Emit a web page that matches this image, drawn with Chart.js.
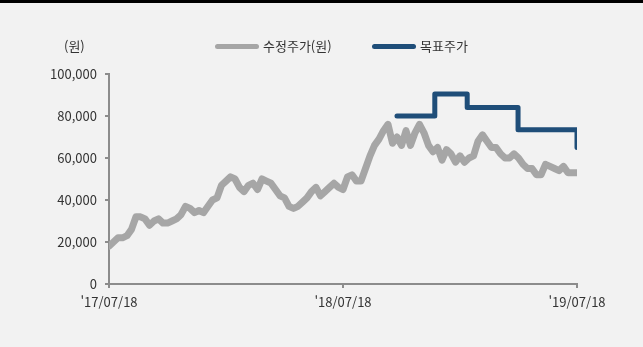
<!DOCTYPE html>
<html lang="ko">
<head>
<meta charset="UTF-8">
<title>수정주가 / 목표주가</title>
<script src="https://cdn.jsdelivr.net/npm/chart.js"></script>
<style>
    html, body {
        margin: 0;
        padding: 0;
        background: #f2f2f2;
    }
    body {
        width: 643px;
        height: 347px;
        position: relative;
        overflow: hidden;
        font-family: "Noto Sans CJK KR", "Noto Sans", sans-serif;
        color: #333;
    }
    .top-bar {
        position: absolute;
        left: 0;
        top: 0;
        width: 643px;
        height: 3px;
        background: #000;
    }
    .chart-box {
        position: absolute;
        left: 0;
        top: 0;
        width: 643px;
        height: 347px;
    }
    .unit {
        position: absolute;
        left: 64px;
        top: 37px;
        font-size: 13px;
        line-height: 18px;
    }
    .legend-item {
        position: absolute;
        top: 37px;
        font-size: 13px;
        line-height: 18px;
        display: flex;
        align-items: center;
    }
    .legend-item .swatch {
        display: inline-block;
        width: 44px;
        height: 5px;
        border-radius: 3px;
        margin-right: 4px;
    }
</style>
</head>
<body>
<div class="top-bar"></div>
<div class="chart-box"><canvas id="priceChart" width="643" height="347"></canvas></div>
<div class="unit">(원)</div>
<div class="legend-item" style="left:215px"><span class="swatch" style="background:#a6a6a6"></span>수정주가(원)</div>
<div class="legend-item" style="left:372px"><span class="swatch" style="background:#1f4e79"></span>목표주가</div>

<script>
// weekly adjusted close, from '17/07/18 (week 0) to '19/07/18 (week 104)
const adjPrice = [
    18000, 20000, 22000, 22000, 23000, 26000, 32000, 32000, 31000, 28000,
    30000, 31000, 29000, 29000, 30000, 31000, 33000, 37000, 36000, 34000,
    35000, 34000, 37000, 40000, 41000, 47000, 49000, 51000, 50000, 46000,
    44000, 47000, 48000, 45000, 50000, 49000, 48000, 45000, 42000, 41000,
    37000, 36000, 37000, 39000, 41000, 44000, 46000, 42000, 44000, 46000,
    48000, 46000, 45000, 51000, 52000, 49000, 49000, 55000, 61000, 66000,
    69000, 73000, 76000, 67000, 70000, 66000, 73000, 66000, 72000, 76000,
    72000, 66000, 63000, 65000, 59000, 64000, 62000, 58000, 61000, 58000,
    60000, 61000, 68000, 71000, 68000, 65000, 65000, 62000, 60000, 60000,
    62000, 60000, 57000, 55000, 55000, 52000, 52000, 57000, 56000, 55000,
    54000, 56000, 53000, 53000, 53000
];

// target price changes (week index where new target starts)
const targetWeek = [64, 72.4, 79.6, 90.9, 104];
const targetPrice = [80000, 90500, 84000, 73500, 65000];

// x-axis tick labels
const xTickWeek = [0, 52, 104];
const xTickLabel = ["'17/07/18", "'18/07/18", "'19/07/18"];

const yTicks = [0, 20000, 40000, 60000, 80000, 100000];

const axisColor = '#8c8c8c';
const textColor = '#333333';
const fontFamily = '"Noto Sans CJK KR", "Noto Sans", sans-serif';

const ctx = document.getElementById('priceChart').getContext('2d');
new Chart(ctx, {
    type: 'line',
    data: {
        datasets: [
            {
                label: '수정주가(원)',
                data: adjPrice.map((v, i) => ({ x: i, y: v })),
                borderColor: '#a6a6a6',
                borderWidth: 7,
                borderCapStyle: 'round',
                borderJoinStyle: 'round',
                pointRadius: 0,
                tension: 0,
                order: 2
            },
            {
                label: '목표주가',
                data: targetWeek.map((w, i) => ({ x: w, y: targetPrice[i] })),
                borderColor: '#1f4e79',
                borderWidth: 5,
                borderCapStyle: 'round',
                borderJoinStyle: 'round',
                stepped: true,
                pointRadius: 0,
                order: 1
            }
        ]
    },
    options: {
        responsive: false,
        animation: false,
        layout: {
            autoPadding: false,
            padding: { top: 74, right: 66, bottom: 0, left: 0 }
        },
        plugins: {
            legend: { display: false },
            tooltip: { enabled: false }
        },
        scales: {
            x: {
                type: 'linear',
                min: 0,
                max: 104,
                afterBuildTicks: (scale) => {
                    scale.ticks = xTickWeek.map(v => ({ value: v }));
                },
                afterFit: (scale) => { scale.height = 63; },
                ticks: {
                    autoSkip: false,
                    maxRotation: 0,
                    padding: 6,
                    color: textColor,
                    font: { family: fontFamily, size: 13 },
                    callback: (value) => {
                        const k = xTickWeek.indexOf(value);
                        return k >= 0 ? xTickLabel[k] : '';
                    }
                },
                grid: {
                    display: true,
                    drawOnChartArea: false,
                    drawTicks: true,
                    tickLength: 4,
                    color: axisColor,
                    lineWidth: 2
                },
                border: { display: true, color: axisColor, width: 2 }
            },
            y: {
                min: 0,
                max: 100000,
                afterBuildTicks: (scale) => {
                    scale.ticks = yTicks.map(v => ({ value: v }));
                },
                afterFit: (scale) => { scale.width = 109; },
                ticks: {
                    padding: 8,
                    color: textColor,
                    font: { family: fontFamily, size: 13 },
                    callback: (value) => value.toLocaleString('en-US')
                },
                grid: {
                    display: true,
                    drawOnChartArea: false,
                    drawTicks: true,
                    tickLength: 4,
                    color: axisColor,
                    lineWidth: 2
                },
                border: { display: true, color: axisColor, width: 2 }
            }
        }
    }
});
</script>
</body>
</html>
